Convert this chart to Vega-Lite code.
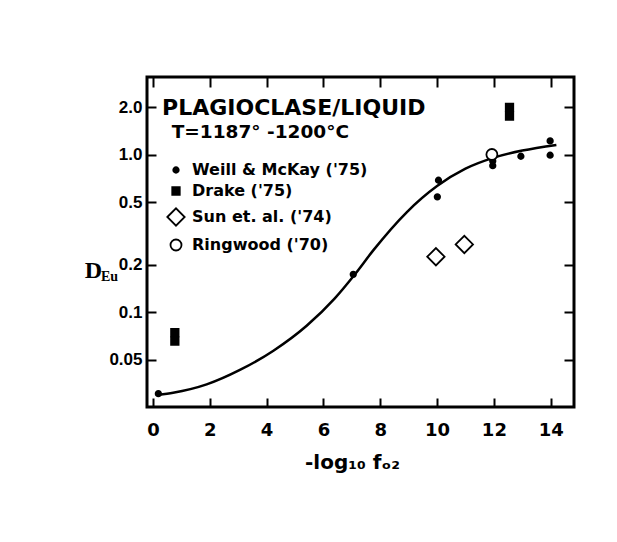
{
  "$schema": "https://vega.github.io/schema/vega-lite/v6.json",
  "width": 427,
  "height": 330,
  "autosize": "none",
  "padding": {"left": 147, "top": 77, "right": 43, "bottom": 135},
  "background": "white",
  "config": {
    "view": {"stroke": "black", "strokeWidth": 3},
    "axis": {"domain": false, "grid": false, "labelColor": "black", "titleColor": "black", "tickColor": "black", "tickWidth": 2, "labelFlush": false, "labelOverlap": false}
  },
  "datasets": {
    "points": [
      {"x": 0.19, "y": 0.0305, "source": "Weill & McKay ('75)"},
      {"x": 7.05, "y": 0.174, "source": "Weill & McKay ('75)"},
      {"x": 10.05, "y": 0.687, "source": "Weill & McKay ('75)"},
      {"x": 10.01, "y": 0.539, "source": "Weill & McKay ('75)"},
      {"x": 11.96, "y": 0.91, "source": "Weill & McKay ('75)"},
      {"x": 11.96, "y": 0.85, "source": "Weill & McKay ('75)"},
      {"x": 12.95, "y": 0.975, "source": "Weill & McKay ('75)"},
      {"x": 13.98, "y": 1.22, "source": "Weill & McKay ('75)"},
      {"x": 13.98, "y": 0.99, "source": "Weill & McKay ('75)"},
      {"x": 12.55, "y": 1.99, "source": "Drake ('75)"},
      {"x": 12.55, "y": 1.75, "source": "Drake ('75)"},
      {"x": 0.77, "y": 0.0743, "source": "Drake ('75)"},
      {"x": 0.77, "y": 0.0657, "source": "Drake ('75)"},
      {"x": 9.96, "y": 0.225, "source": "Sun et. al. ('74)"},
      {"x": 10.96, "y": 0.269, "source": "Sun et. al. ('74)"},
      {"x": 11.93, "y": 1.0, "source": "Ringwood ('70)"}
    ],
    "curve": [
      {"x": 0.19, "y": 0.0300},
      {"x": 0.71, "y": 0.0309},
      {"x": 1.89, "y": 0.0349},
      {"x": 3.06, "y": 0.0431},
      {"x": 4.24, "y": 0.0571},
      {"x": 5.41, "y": 0.0822},
      {"x": 6.4, "y": 0.1225},
      {"x": 7.11, "y": 0.1742},
      {"x": 7.76, "y": 0.2477},
      {"x": 8.93, "y": 0.4305},
      {"x": 10.0, "y": 0.631},
      {"x": 11.0, "y": 0.8128},
      {"x": 12.0, "y": 0.955},
      {"x": 13.0, "y": 1.0593},
      {"x": 14.2, "y": 1.1508}
    ],
    "title1": [{"x": 0.32, "y": 1.97, "label": "PLAGIOCLASE/LIQUID"}],
    "title2": [{"x": 0.66, "y": 1.395, "label": "T=1187° -1200°C"}]
  },
  "layer": [
    {
      "data": {"name": "curve"},
      "mark": {"type": "line", "interpolate": "monotone", "color": "black", "strokeWidth": 2.5},
      "encoding": {
        "x": {"field": "x", "type": "quantitative", "scale": {"domain": [-0.21, 14.82], "nice": false, "zero": false},
          "axis": {"orient": "top", "values": [0, 2, 4, 6, 8, 10, 12, 14], "labels": false, "tickSize": -10, "title": null}},
        "y": {"field": "y", "type": "quantitative", "scale": {"type": "log", "domain": [0.0251, 3.1], "nice": false},
          "axis": {"orient": "right", "values": [0.05, 0.1, 0.2, 0.5, 1, 2], "labels": false, "tickSize": -10,
            "title": "Eu", "titleAngle": 0, "titleX": -465, "titleY": 199, "titleAlign": "center", "titleBaseline": "middle",
            "titleFont": "Liberation Serif", "titleFontSize": 14, "titleFontWeight": "bold"}}
      }
    },
    {
      "data": {"name": "points"},
      "mark": {"type": "point", "filled": true, "stroke": "black", "strokeWidth": 1.8, "opacity": 1},
      "encoding": {
        "x": {"field": "x", "type": "quantitative", "scale": {"domain": [-0.21, 14.82], "nice": false, "zero": false},
          "axis": {"orient": "bottom", "values": [0, 2, 4, 6, 8, 10, 12, 14], "tickSize": -9, "labelPadding": 23,
            "labelFont": "DejaVu Sans", "labelFontSize": 18, "labelFontWeight": "bold", "labelBaseline": "top",
            "title": "-log₁₀ fₒ₂", "titleFont": "DejaVu Sans", "titleFontSize": 20, "titleFontWeight": "bold",
            "titleX": 205, "titleY": 55, "titleBaseline": "middle", "titleAlign": "center"}},
        "y": {"field": "y", "type": "quantitative", "scale": {"type": "log", "domain": [0.0251, 3.1], "nice": false},
          "axis": {"orient": "left", "values": [0.05, 0.1, 0.2, 0.5, 1, 2], "tickSize": -9, "labelPadding": 14,
            "labelExpr": "datum.value < 0.09 ? '0.05' : format(datum.value, '.1f')",
            "labelFont": "Liberation Sans", "labelFontSize": 17, "labelFontWeight": "bold",
            "title": "D", "titleAngle": 0, "titleX": -54, "titleY": 193, "titleAlign": "center", "titleBaseline": "middle",
            "titleFont": "Liberation Serif", "titleFontSize": 24, "titleFontWeight": "bold"}},
        "shape": {"field": "source", "type": "nominal",
          "scale": {"domain": ["Weill & McKay ('75)", "Drake ('75)", "Sun et. al. ('74)", "Ringwood ('70)"], "range": ["circle", "square", "diamond", "circle"]},
          "legend": {"orient": "none", "legendX": 19, "legendY": 85, "title": null, "padding": 0, "rowPadding": 5, "labelOffset": 6, "labelLimit": 400,
            "labelFont": "DejaVu Sans", "labelFontSize": 16, "labelFontWeight": "bold", "labelColor": "black",
            "symbolStrokeColor": "black", "symbolStrokeWidth": 1.8}},
        "fill": {"field": "source", "type": "nominal",
          "scale": {"domain": ["Weill & McKay ('75)", "Drake ('75)", "Sun et. al. ('74)", "Ringwood ('70)"], "range": ["black", "black", "white", "white"]}},
        "size": {"field": "source", "type": "nominal",
          "scale": {"type": "ordinal", "domain": ["Weill & McKay ('75)", "Drake ('75)", "Sun et. al. ('74)", "Ringwood ('70)"], "range": [30, 56, 300, 121]}}
      }
    },
    {
      "data": {"name": "title1"},
      "mark": {"type": "text", "align": "left", "baseline": "middle", "font": "DejaVu Sans", "fontSize": 22, "fontWeight": "bold", "color": "black"},
      "encoding": {
        "x": {"field": "x", "type": "quantitative", "axis": null},
        "y": {"field": "y", "type": "quantitative", "axis": null},
        "text": {"field": "label"}
      }
    },
    {
      "data": {"name": "title2"},
      "mark": {"type": "text", "align": "left", "baseline": "middle", "font": "DejaVu Sans", "fontSize": 18.5, "fontWeight": "bold", "color": "black"},
      "encoding": {
        "x": {"field": "x", "type": "quantitative", "axis": null},
        "y": {"field": "y", "type": "quantitative", "axis": null},
        "text": {"field": "label"}
      }
    }
  ],
  "resolve": {"axis": {"x": "independent", "y": "independent"}}
}
